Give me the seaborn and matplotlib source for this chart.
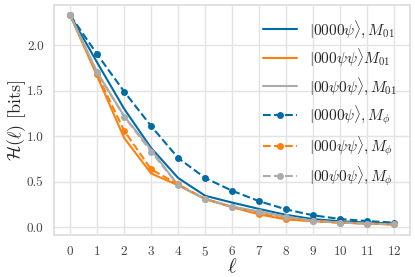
import numpy as np
import pandas as pd
import matplotlib
matplotlib.use("Agg")
import matplotlib.pyplot as plt
import seaborn as sns

# --- dados ---
ell = list(range(13))

h_0000_m01 = [2.33, 1.81, 1.30, 0.87, 0.54, 0.345, 0.27, 0.20, 0.135, 0.088, 0.065, 0.05, 0.04]
h_000pp_m01 = [2.33, 1.66, 0.98, 0.59, 0.46, 0.31, 0.22, 0.14, 0.085, 0.066, 0.05, 0.04, 0.03]
h_00p0p_m01 = [2.33, 1.70, 1.22, 0.85, 0.46, 0.31, 0.225, 0.17, 0.115, 0.07, 0.05, 0.04, 0.03]
h_0000_mphi = [2.33, 1.90, 1.49, 1.11, 0.76, 0.54, 0.40, 0.285, 0.195, 0.13, 0.09, 0.067, 0.05]
h_000pp_mphi = [2.33, 1.68, 1.06, 0.635, 0.47, 0.31, 0.22, 0.15, 0.09, 0.066, 0.05, 0.04, 0.03]
h_00p0p_mphi = [2.33, 1.70, 1.215, 0.83, 0.46, 0.31, 0.225, 0.17, 0.115, 0.07, 0.05, 0.04, 0.03]

labels = [
    r"$|0000\psi\rangle, M_{01}$",
    r"$|000\psi\psi\rangle M_{01}$",
    r"$|00\psi0\psi\rangle, M_{01}$",
    r"$|0000\psi\rangle, M_{\phi}$",
    r"$|000\psi\psi\rangle, M_{\phi}$",
    r"$|00\psi0\psi\rangle, M_{\phi}$",
]
series = [h_0000_m01, h_000pp_m01, h_00p0p_m01, h_0000_mphi, h_000pp_mphi, h_00p0p_mphi]

cores = ["#006BA4", "#FF800E", "#ABABAB"]

sns.set_theme(style="whitegrid", rc={'grid.color': '#e3e3e3', 'axes.edgecolor': '#dddddd'})
plt.rcParams['font.family'] = 'serif'
plt.rcParams['font.serif'] = ['cmr10']
plt.rcParams['mathtext.fontset'] = 'cm'
plt.rcParams['axes.formatter.use_mathtext'] = True

fig, ax = plt.subplots(figsize=(4.15, 2.77), dpi=100)
fig.subplots_adjust(left=0.13, right=0.989, bottom=0.152, top=0.983)

for i, (vals, lab) in enumerate(zip(series, labels)):
    df = pd.DataFrame({'ell': ell, 'H': vals})
    if i < 3:
        sns.lineplot(data=df, x='ell', y='H', ax=ax, color=cores[i], lw=1.5,
                     label=lab)
    else:
        sns.lineplot(data=df, x='ell', y='H', ax=ax, color=cores[i - 3], lw=1.5,
                     linestyle='--', marker='o', markersize=5,
                     markeredgewidth=0, label=lab)

ax.set_xticks(ell)
ax.set_yticks([0.0, 0.5, 1.0, 1.5, 2.0])
ax.set_yticklabels(['0.0', '0.5', '1.0', '1.5', '2.0'])
ax.tick_params(labelsize=9.5, pad=1.5, labelcolor='#444444')
ax.set_xlabel(r"$\ell$", fontsize=15, labelpad=-1)
ax.set_ylabel(r"$\mathcal{H}(\ell)$ [bits]", fontsize=13)
ax.yaxis.set_label_coords(-0.072, 0.5)
ax.legend(loc='upper right', frameon=False, fontsize=11, labelspacing=0.45,
          handlelength=2.2)

plt.savefig('out.png', dpi=100)
plt.close()
